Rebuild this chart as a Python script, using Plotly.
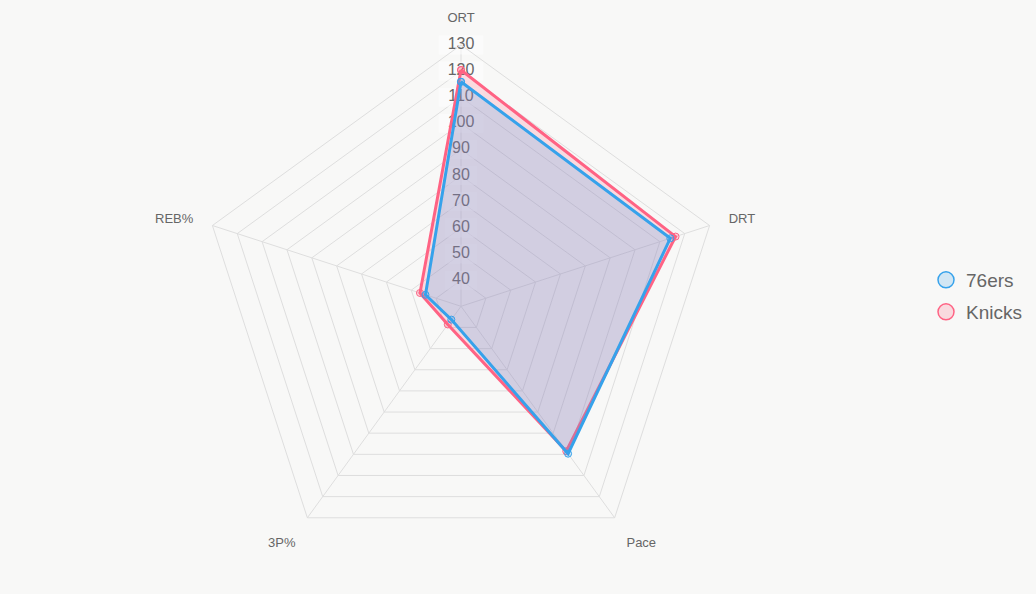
import plotly.graph_objects as go

categories = ["ORT", "DRT", "Pace", "3P%", "REB%"]
sixers = [115.9, 114.2, 99.7, 36.3, 44.3]
knicks = [120.4, 116.3, 98.5, 38.6, 46.5]
tick_values = [40, 50, 60, 70, 80, 90, 100, 110, 120, 130]
tick_labels = [str(v) for v in tick_values]

BLUE = "#36a2eb"
PINK = "#ff6384"
BLUE_FILL = "rgba(54,162,235,0.2)"
PINK_FILL = "rgba(255,99,132,0.2)"
BG = "#f8f8f7"
GRID = "#dedede"
TXT = "#666666"
FONT = "Helvetica, Arial, Liberation Sans, sans-serif"

def closed(vals):
    return list(vals) + [vals[0]]

fig = go.Figure()

# tick label backdrops (drawn under the data, like Chart.js)
fig.add_trace(go.Scatterpolar(
    r=tick_values, theta=[categories[0]] * len(tick_values),
    mode="markers",
    marker=dict(symbol="line-ew", size=[len(t) * 9 + 5 for t in tick_labels],
                color="rgba(255,255,255,0.75)",
                line=dict(color="rgba(255,255,255,0.75)", width=19)),
    showlegend=False, hoverinfo="skip"))
fig.add_trace(go.Scatterpolar(
    r=tick_values, theta=[categories[0]] * len(tick_values),
    mode="text", text=tick_labels, textposition="middle center",
    textfont=dict(size=16, color=TXT, family=FONT),
    showlegend=False, hoverinfo="skip"))

for name, vals, col, fc in [("Knicks", knicks, PINK, PINK_FILL), ("76ers", sixers, BLUE, BLUE_FILL)]:
    fig.add_trace(go.Scatterpolar(
        r=closed(vals), theta=closed(categories), name=name,
        mode="lines+markers", fill="toself", fillcolor=fc,
        line=dict(color=col, width=3),
        marker=dict(size=7, color=fc, line=dict(color=col, width=1)),
        showlegend=False))

# legend entries
for name, col, fc, lg in [("76ers", BLUE, BLUE_FILL, "legend"), ("Knicks", PINK, PINK_FILL, "legend2")]:
    fig.add_trace(go.Scatterpolar(
        r=[None], theta=[categories[0]], name=name, mode="markers",
        marker=dict(size=16, color=fc, line=dict(color=col, width=1.5)),
        legend=lg, showlegend=True))

cx, cy, R = 461, 306.3, 261.4
W, H = 1036, 594
legend_common = dict(font=dict(size=19, color=TXT, family=FONT),
                     bgcolor="rgba(0,0,0,0)", xanchor="left", yanchor="middle",
                     itemsizing="trace")

fig.update_layout(
    width=W, height=H,
    margin=dict(l=0, r=0, t=0, b=0),
    paper_bgcolor=BG,
    font=dict(family=FONT, color=TXT),
    polar=dict(
        domain=dict(x=[(cx - R) / W, (cx + R) / W], y=[(H - cy - R) / H, (H - cy + R) / H]),
        bgcolor=BG,
        gridshape="linear",
        radialaxis=dict(range=[30, 130], tickvals=tick_values, showticklabels=False,
                        showline=False, ticks="", gridcolor=GRID, gridwidth=1),
        angularaxis=dict(rotation=90, direction="clockwise", gridcolor=GRID,
                         linecolor=GRID, showline=True, ticks="outside", ticklen=17,
                         tickcolor="rgba(0,0,0,0)",
                         tickfont=dict(size=13, color=TXT)),
    ),
    legend=dict(x=926 / W, y=(H - 280) / H, **legend_common),
    legend2=dict(x=926 / W, y=(H - 312) / H, **legend_common),
)

fig.write_html("out.html")
